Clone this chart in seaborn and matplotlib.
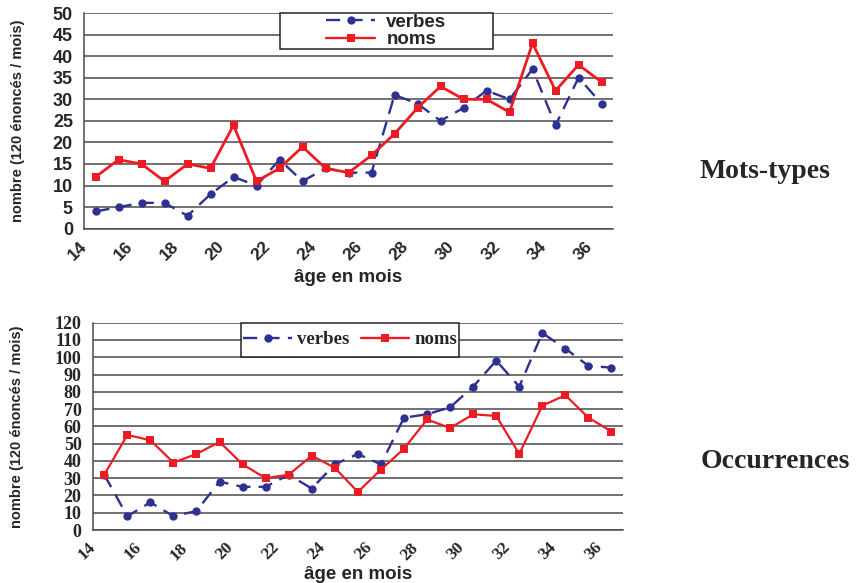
import numpy as np
import pandas as pd
import matplotlib
matplotlib.use("Agg")
import matplotlib.pyplot as plt
from matplotlib.patches import Rectangle
import seaborn as sns

# Age categories (months) and monthly counts
months = list(range(14, 37))
tick_labels = [str(m) if m % 2 == 0 else "" for m in range(14, 38)]

types_verbes = [4, 5, 6, 6, 3, 8, 12, 10, 16, 11, 14, 13, 13, 31, 29, 25, 28, 32, 30, 37, 24, 35, 29]
types_noms = [12, 16, 15, 11, 15, 14, 24, 11, 14, 19, 14, 13, 17, 22, 28, 33, 30, 30, 27, 43, 32, 38, 34]

occ_verbes = [32, 8, 16, 8, 11, 28, 25, 25, 32, 24, 38, 44, 38, 65, 67, 71, 83, 98, 83, 114, 105, 95, 94]
occ_noms = [32, 55, 52, 39, 44, 51, 38, 30, 32, 43, 36, 22, 35, 47, 64, 59, 67, 66, 44, 72, 78, 65, 57]

BLUE = "#2E3192"
RED = "#ED1C24"
GRID = "#4a4a4a"

sns.set_theme(style="white")
SANS = ["Liberation Sans", "DejaVu Sans"]
SERIF = ["Liberation Serif", "DejaVu Serif"]
plt.rcParams["font.family"] = SANS

fig = plt.figure(figsize=(8.61, 5.83), dpi=100)


def long_frame(verbes, noms):
    pos = np.array(months) + 0.5  # centre of each category slot
    return pd.DataFrame({
        "age": np.concatenate([pos, pos]),
        "val": verbes + noms,
        "serie": ["verbes"] * len(verbes) + ["noms"] * len(noms),
    })


def draw(ax, verbes, noms, ymax, ystep, tick_family, legend_family, ncol, box,
         lw_noms, leg_kw):
    df = long_frame(verbes, noms)
    sns.lineplot(data=df, x="age", y="val", hue="serie", style="serie",
                 palette={"verbes": BLUE, "noms": RED},
                 markers={"verbes": "o", "noms": "s"},
                 dashes={"verbes": (6, 3.5), "noms": ""},
                 markersize=6, markeredgewidth=0, linewidth=1.7,
                 legend=False, ax=ax, zorder=4)
    for line in ax.lines:
        if str(line.get_color()).lower() == RED.lower():
            line.set_linewidth(lw_noms)

    ax.set_xlim(14, 37)
    ax.set_ylim(0, ymax)
    ax.set_xticks(range(14, 38))
    ax.set_xticklabels(tick_labels, rotation=45, ha="right", va="center",
                       rotation_mode="anchor", fontweight="bold",
                       fontsize=12.5, family=tick_family)
    ax.set_yticks(np.arange(0, ymax + 1, ystep))
    ax.set_yticklabels([str(v) for v in np.arange(0, ymax + 1, ystep)],
                       fontweight="bold", fontsize=13, family=tick_family)
    ax.tick_params(axis="x", direction="out", length=5, width=1, color=GRID, pad=6)
    ax.tick_params(axis="y", direction="out", length=5, width=1, color=GRID, pad=3)
    ax.yaxis.grid(True, color=GRID, linewidth=1.1)
    ax.xaxis.grid(False)
    ax.set_axisbelow(True)
    for s in ("right", "top"):
        ax.spines[s].set_visible(False)
    for s in ("left", "bottom"):
        ax.spines[s].set_color(GRID)
        ax.spines[s].set_linewidth(1.1)
    ax.set_xlabel("âge en mois", fontweight="bold", fontsize=13.5, labelpad=0)
    ax.set_ylabel("nombre (120 énoncés / mois)", fontweight="bold", fontsize=10.5)

    # legend box
    x0, y0, w, h = box
    ax.add_patch(Rectangle((x0, y0), w, h, transform=ax.transAxes,
                           facecolor="white", edgecolor="#222222",
                           linewidth=1.1, zorder=3, clip_on=False))
    handles = [
        plt.Line2D([], [], color=BLUE, marker="o", markersize=6, linewidth=1.7,
                   dashes=(6, 3.5), markeredgewidth=0),
        plt.Line2D([], [], color=RED, marker="s", markersize=6, linewidth=1.7,
                   markeredgewidth=0),
    ]
    leg = ax.legend(handles, ["verbes", "noms"], loc="center",
                    bbox_to_anchor=(x0 + w / 2, y0 + h / 2), ncol=ncol,
                    frameon=False, labelspacing=0.0, borderpad=0.2,
                    prop={"family": legend_family, "weight": "bold", "size": 13.5},
                    **leg_kw)
    leg.set_zorder(5)


ax1 = fig.add_axes([0.0976, 0.6077, 0.6144, 0.370])
draw(ax1, types_verbes, types_noms, 50, 5, SANS, SANS, 1,
     (0.37, 0.833, 0.403, 0.167), 2.0,
     dict(handlelength=2.6, handletextpad=0.6))
ax1.yaxis.set_label_coords(-0.112, 0.5)
ax1.xaxis.set_label_coords(0.5, -0.185)

ax2 = fig.add_axes([0.1077, 0.0909, 0.6159, 0.3556])
draw(ax2, occ_verbes, occ_noms, 120, 10, SERIF, SERIF, 2,
     (0.28, 0.835, 0.411, 0.165), 1.6,
     dict(handlelength=2.6, handletextpad=0.25, columnspacing=0.6))
ax2.yaxis.set_label_coords(-0.13, 0.5)
ax2.xaxis.set_label_coords(0.5, -0.172)

fig.text(0.889, 0.705, "Mots-types", family=SERIF, fontweight="bold",
         fontsize=20, ha="center", va="center")
fig.text(0.901, 0.209, "Occurrences", family=SERIF, fontweight="bold",
         fontsize=20, ha="center", va="center")

fig.savefig("out.png", dpi=100)
